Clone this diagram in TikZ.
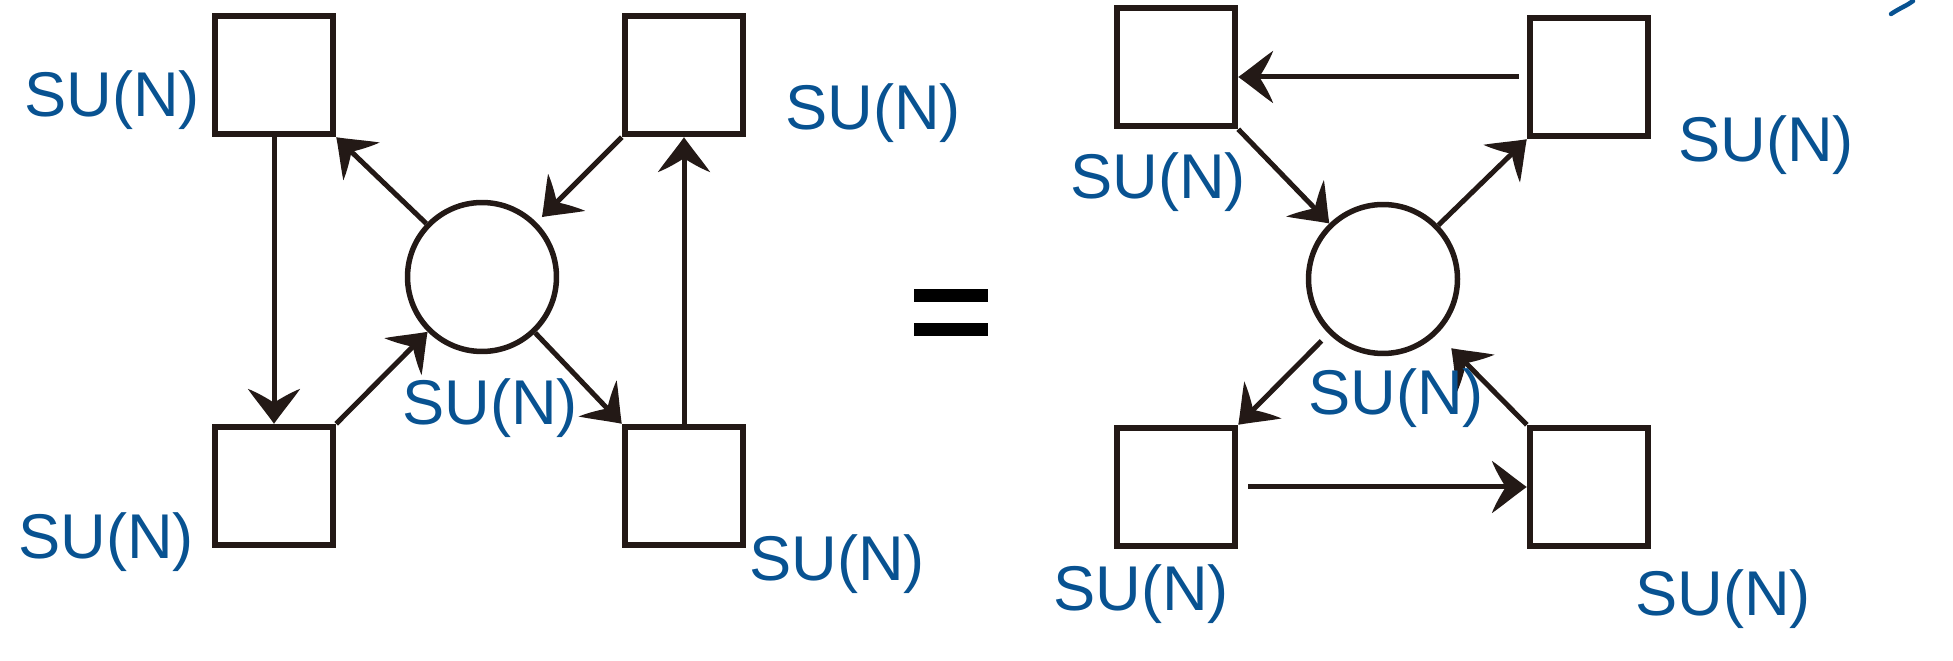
\documentclass[tikz,border=0pt]{standalone}
\usepackage{fontspec}
\setmainfont{Liberation Sans}
\usetikzlibrary{arrows.meta}

\definecolor{inkblack}{RGB}{35,25,22}
\definecolor{penblue}{RGB}{8,82,145}

% swept-back arrow head with curved sides
\pgfdeclarearrow{
  name = Swoosh,
  parameters = {\the\pgfarrowlength,\the\pgfarrowwidth},
  setup code = {
    \pgfarrowssettipend{\pgfarrowlength}
    \pgfarrowssetbackend{0pt}
    \pgfarrowssetvisualbackend{0pt}
    \pgfarrowssetlineend{0.55\pgfarrowlength}
    \pgfarrowshullpoint{\pgfarrowlength}{0pt}
    \pgfarrowshullpoint{0pt}{0.5\pgfarrowwidth}
    \pgfarrowshullpoint{0pt}{-0.5\pgfarrowwidth}
    \pgfarrowssavethe\pgfarrowlength
    \pgfarrowssavethe\pgfarrowwidth
  },
  drawing code = {
    \pgfpathmoveto{\pgfqpoint{\pgfarrowlength}{0pt}}
    \pgfpathcurveto{\pgfqpoint{0.7\pgfarrowlength}{0.14\pgfarrowwidth}}
                   {\pgfqpoint{0.3\pgfarrowlength}{0.36\pgfarrowwidth}}
                   {\pgfqpoint{0pt}{0.5\pgfarrowwidth}}
    \pgfpathcurveto{\pgfqpoint{0.12\pgfarrowlength}{0.3\pgfarrowwidth}}
                   {\pgfqpoint{0.3\pgfarrowlength}{0.1\pgfarrowwidth}}
                   {\pgfqpoint{0.4\pgfarrowlength}{0pt}}
    \pgfpathcurveto{\pgfqpoint{0.3\pgfarrowlength}{-0.1\pgfarrowwidth}}
                   {\pgfqpoint{0.12\pgfarrowlength}{-0.3\pgfarrowwidth}}
                   {\pgfqpoint{0pt}{-0.5\pgfarrowwidth}}
    \pgfpathcurveto{\pgfqpoint{0.3\pgfarrowlength}{-0.36\pgfarrowwidth}}
                   {\pgfqpoint{0.7\pgfarrowlength}{-0.14\pgfarrowwidth}}
                   {\pgfqpoint{\pgfarrowlength}{0pt}}
    \pgfpathclose
    \pgfusepathqfill
  },
  defaults = {length=0.7cm, width=1.05cm}
}

\begin{document}
\begin{tikzpicture}[
    x=0.02cm, y=-0.02cm,
    mybox/.style={rectangle, draw=inkblack, line width=0.13cm, minimum size=2.36cm, inner sep=0pt},
    myvertex/.style={circle, draw=inkblack, line width=0.11cm, minimum size=2.98cm, inner sep=0pt},
    myedge/.style={-{Swoosh[length=0.7cm, width=1.05cm]}, line width=0.1cm, color=inkblack},
    mylabel/.style={text=penblue, font=\fontsize{36}{40}\selectfont, inner sep=0pt}
]
    \useasboundingbox (0,0) rectangle (1953,661);

    % left diagram
    \node[mybox] (LTL) at (274, 75) {};
    \node[mybox] (LTR) at (684, 75) {};
    \node[mybox] (LBL) at (274, 486) {};
    \node[mybox] (LBR) at (684, 486) {};
    \node[myvertex] (LC) at (482, 277) {};

    \draw[myedge] (LTL.south) -- (LBL.north);
    \draw[myedge] (LBR.north) -- (LTR.south);
    \draw[myedge] (LC) -- (LTL.south east);
    \draw[myedge, shorten >=0.15cm] (LTR.south west) -- (LC);
    \draw[myedge] (LBL.north east) -- (LC);
    \draw[myedge] (LC) -- (LBR.north west);

    \node[mylabel] (lLTL) at (112, 100) {SU(N)};
    \node[mylabel] (lLTR) at (873, 113) {SU(N)};
    \node[mylabel] (lLC) at (490, 408) {SU(N)};
    \node[mylabel] (lLBL) at (106, 542) {SU(N)};
    \node[mylabel] (lLBR) at (837, 564) {SU(N)};

    % equals sign
    \fill[black] (914, 289) rectangle (988, 302);
    \fill[black] (914, 323) rectangle (988, 336);

    % right diagram
    \node[mybox] (RTL) at (1176, 67) {};
    \node[mybox] (RTR) at (1589, 77) {};
    \node[mybox] (RBL) at (1176, 487) {};
    \node[mybox] (RBR) at (1589, 487) {};
    \node[myvertex] (RC) at (1383, 279) {};

    \draw[myedge] ([xshift=-0.16cm]RTR.west) -- (RTR.west -| RTL.east);
    \draw[myedge] ([xshift=0.2cm]RBL.east) -- (RBR.west);
    \draw[myedge] (RTL.south east) -- (RC);
    \draw[myedge] (RC) -- (RTR.south west);
    \draw[myedge, shorten <=0.2cm] (RC) -- (RBL.north east);
    \draw[myedge, shorten >=0.4cm] (RBR.north west) -- (RC);

    \node[mylabel] (lRTL) at (1158, 182) {SU(N)};
    \node[mylabel] (lRTR) at (1766, 145) {SU(N)};
    \node[mylabel] (lRC) at (1396, 398) {SU(N)};
    \node[mylabel] (lRBL) at (1141, 594) {SU(N)};
    \node[mylabel] (lRBR) at (1723, 599) {SU(N)};

    % stroke cut off at the top edge
    \draw[penblue, line width=0.09cm, line cap=round] (1891, 14) .. controls (1900, 8) and (1908, 5) .. (1913, 1);
\end{tikzpicture}
\end{document}
